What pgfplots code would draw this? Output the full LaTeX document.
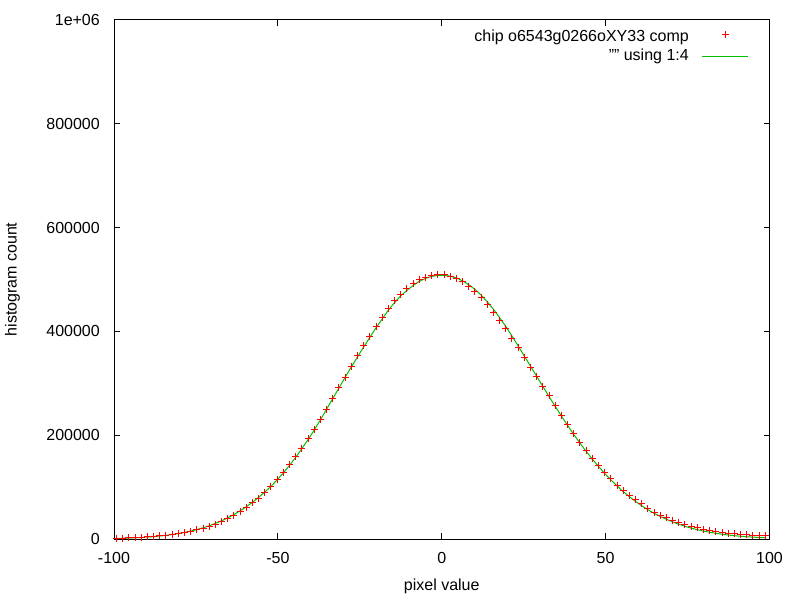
\documentclass[border=0pt]{standalone}
\usepackage{pgfplots}
\pgfplotsset{compat=1.18}
\usepackage{pgfplotstable}
\usepackage{fontspec}
\setmainfont{Liberation Sans}
\definecolor{gpred}{RGB}{255,0,0}
\definecolor{gpgreen}{RGB}{0,192,0}
\pgfplotsset{
  every axis legend/.style={cells={anchor=east}, inner sep=0pt, shape=rectangle,
    anchor=north east, at={(0.9687,0.9806)}, nodes={inner sep=0pt}},
  markleg/.style={legend image code/.code={\draw[color=gpred, line width=1pt] plot[mark=+, mark size=3.5pt, mark options={color=gpred, line width=1pt}] coordinates {(23pt,3pt)};}},
  lineleg/.style={legend image code/.code={\draw[color=gpgreen, line width=1pt] (0pt,0.5pt) -- (46pt,0.5pt);}},
}
\pgfplotstableread{
x pts fit
-99.22 1500 1100
-97.34 1800 1400
-95.45 2200 1800
-93.57 2700 2300
-91.68 3300 2900
-89.80 4000 3700
-87.91 4800 4600
-86.03 5800 5700
-84.14 7000 7000
-82.26 8800 8600
-80.37 10800 10500
-78.49 12800 12700
-76.60 15300 15200
-74.72 18000 18200
-72.83 20800 21600
-70.95 24500 25500
-69.06 28800 30000
-67.18 33500 35100
-65.29 38800 40800
-63.41 45000 47200
-61.52 52500 54300
-59.64 60000 62200
-57.75 69500 70800
-55.87 79000 80200
-53.98 90000 90500
-52.10 101500 101500
-50.21 115000 114000
-48.33 128500 127500
-46.44 143000 142000
-44.56 158600 157500
-42.67 175000 174000
-40.79 193000 191500
-38.90 211000 210000
-37.02 230000 229500
-35.13 250000 250000
-33.25 270500 270500
-31.36 292000 291000
-29.48 312000 311500
-27.59 333000 331500
-25.71 353000 351000
-23.82 372000 370000
-21.94 391000 388500
-20.05 410000 407000
-18.17 427000 424000
-16.28 444000 441000
-14.40 459000 455500
-12.51 471500 468500
-10.63 482000 479000
-8.74 491500 488500
-6.86 500000 496500
-4.97 504000 502000
-3.09 507500 506000
-1.20 510500 508000
0.69 509000 508000
2.57 506000 506500
4.46 501500 503000
6.34 496000 497500
8.23 486500 490000
10.11 477000 481000
12.00 465000 470000
13.88 451000 457000
15.77 436000 442500
17.65 420500 426500
19.54 405000 409500
21.42 387000 391000
23.31 368500 372000
25.19 350000 352500
27.08 331000 333000
28.96 312500 313500
30.85 294500 294000
32.73 276000 274500
34.62 256500 255500
36.50 237500 237000
38.39 220500 219000
40.27 202500 201500
42.16 186000 185000
44.04 171000 169000
45.93 156000 154000
47.81 141000 140000
49.70 129000 126500
51.58 116000 114000
53.47 104000 102500
55.35 94000 91500
57.24 84500 81500
59.12 75500 72500
61.01 67500 64000
62.89 59500 56500
64.78 51500 49500
66.66 46000 43500
68.55 41500 38000
70.43 36600 33000
72.32 32300 28500
74.20 28300 24500
76.09 25000 21000
77.97 21500 18000
79.86 18800 15300
81.74 16700 13000
83.63 14800 11000
85.51 12900 9200
87.40 11500 7700
89.28 10000 6400
91.17 9300 5300
93.05 8300 4400
94.94 7700 3600
96.82 7000 3000
98.71 6400 2400
}\histdata
\begin{document}
\begin{tikzpicture}[x=1pt,y=1pt,font=\fontsize{16}{19}\selectfont]
\useasboundingbox (0,0) rectangle (800,600);
\fill[white] (0,0) rectangle (800,600);
\begin{axis}[
  at={(114pt,61pt)}, anchor=south west,
  scale only axis, width=655.5pt, height=519pt,
  xmin=-100, xmax=100, ymin=0, ymax=1000000,
  xtick={-100,-50,0,50,100}, xticklabels={-100,-50,0,50,100},
  ytick={0,200000,400000,600000,800000,1000000},
  yticklabels={0,200000,400000,600000,800000,1e+06},
  scaled y ticks=false, scaled x ticks=false,
  minor tick num=0,
  tick align=inside, tick pos=both, major tick length=6pt,
  axis line style={line width=1pt, black},
  every tick/.style={black, line width=1pt},
  xticklabel style={inner sep=0pt, anchor=center, yshift=-18.5pt},
  yticklabel style={inner sep=0pt, anchor=east, xshift=-14pt},
  xlabel={pixel value}, ylabel={histogram count},
  xlabel style={at={(axis description cs:0.5,-0.0906)}, anchor=center, inner sep=0pt},
  ylabel style={at={(axis description cs:-0.1548,0.5)}, anchor=center, inner sep=0pt},
  legend plot pos=right,
  legend style={row sep=4pt, /tikz/every odd column/.append style={column sep=13pt}},
]
\addplot[only marks, mark=+, mark size=3.5pt, color=gpred, line width=1pt, markleg]
  table[x=x, y=pts] {\histdata};
\addlegendentry{chip o6543g0266oXY33 comp}
\addplot[color=gpgreen, line width=1pt, mark=none, lineleg]
  table[x=x, y=fit] {\histdata};
\addlegendentry{"" using 1:4}
\end{axis}
\end{tikzpicture}
\end{document}
